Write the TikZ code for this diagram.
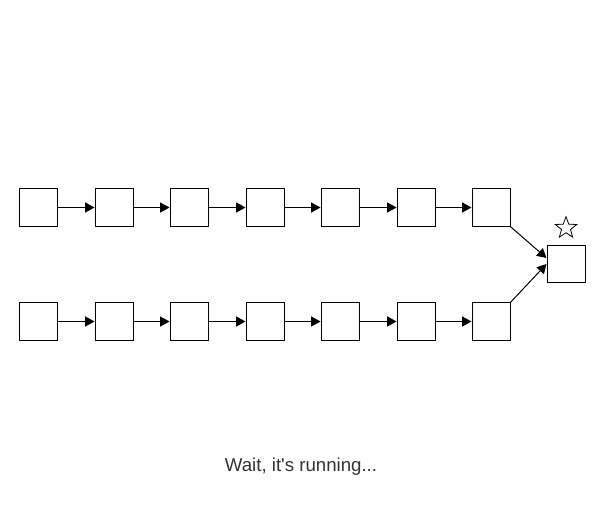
\documentclass[tikz,border=0pt]{standalone}
\usepackage{fontspec}
\newfontfamily\plainfont{Liberation Sans}
\usetikzlibrary{arrows.meta,shapes.geometric}
\definecolor{txt}{HTML}{333333}
\tikzset{
  box/.style={draw=black, line width=0.75pt, minimum width=28.5pt, minimum height=28pt, inner sep=0pt, fill=white},
  conn/.style={draw=black, line width=0.75pt, -{Triangle[length=7pt,width=7.5pt]}},
}
\begin{document}
\begin{tikzpicture}[x=0.75pt,y=-0.75pt]
\useasboundingbox (0,0) rectangle (605,529);
\foreach \i/\x in {1/38,2/114,3/189,4/265,5/340,6/416,7/491}{
  \node[box] (t\i) at (\x,207.5) {};
  \node[box] (b\i) at (\x,321.5) {};
}
\node[box] (f) at (566,264) {};
\node[star, star points=5, star point ratio=2.4, draw=black, line width=0.6pt, minimum size=17pt, inner sep=0pt] (s) at (566,228) {};
\foreach \i [evaluate=\i as \j using int(\i+1)] in {1,...,6}{
  \draw[conn] (t\i.east) -- (t\j.west);
  \draw[conn] (b\i.east) -- (b\j.west);
}
\coordinate (fa) at ([yshift=4.5pt]f.west);
\coordinate (fb) at ([yshift=0pt]f.west);
\draw[conn] (t7.south east) -- (fa);
\draw[conn] (b7.north east) -- (fb);
\node[text=txt, font=\plainfont\fontsize{14pt}{16pt}\selectfont, inner sep=0pt] (msg) at (301,467) {Wait, it\char"27 s running...};
\end{tikzpicture}
\end{document}
